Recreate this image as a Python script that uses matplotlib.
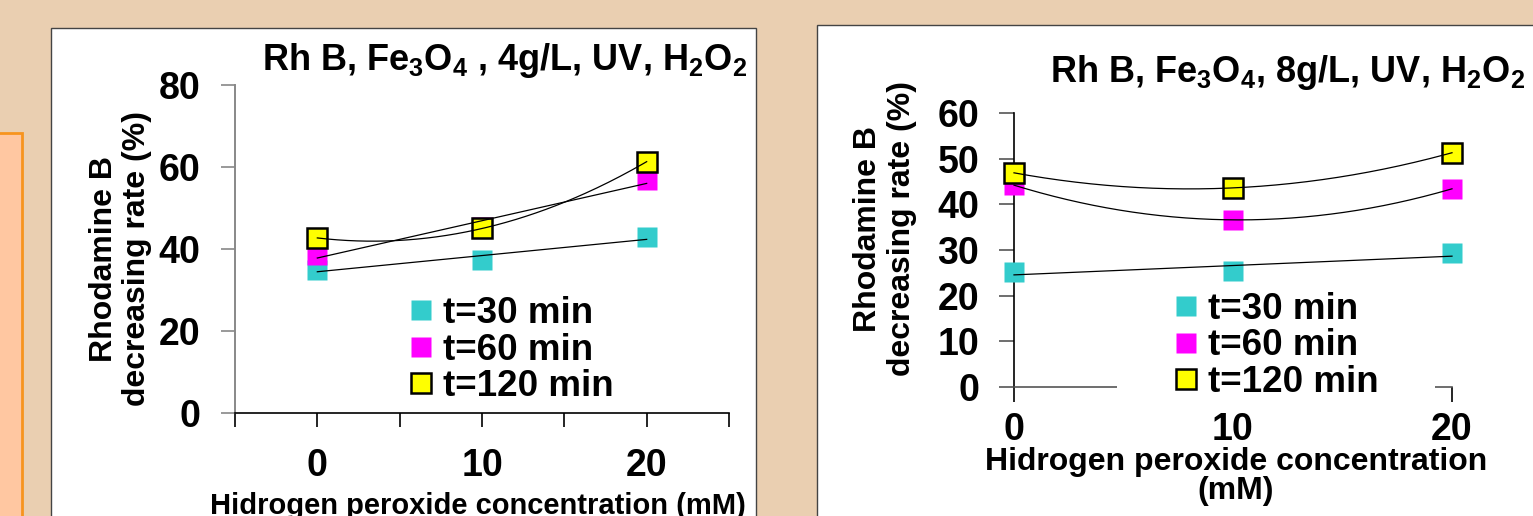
import numpy as np
import matplotlib
matplotlib.use('Agg')
import matplotlib.pyplot as plt
from matplotlib.patches import Rectangle

plt.rcParams['font.family'] = ['Liberation Sans', 'DejaVu Sans']
plt.rcParams['font.weight'] = 'bold'
plt.rcParams['axes.labelweight'] = 'bold'
plt.rcParams['mathtext.fontset'] = 'custom'
plt.rcParams['mathtext.rm'] = 'Liberation Sans:bold'
plt.rcParams['mathtext.it'] = 'Liberation Sans:bold'
plt.rcParams['mathtext.bf'] = 'Liberation Sans:bold'

conc = [0, 10, 20]
labels = ['t=30 min', 't=60 min', 't=120 min']
colors = ['#33CCCC', '#FF00FF', '#FFFF00']

# Fe3O4 4 g/L
rate4_30 = [35.0, 37.3, 42.9]
rate4_60 = [38.6, 45.3, 56.8]
rate4_120 = [42.7, 45.0, 61.3]
fit4 = [1, 1, 2]          # trendline order per series

# Fe3O4 8 g/L
rate8_30 = [25.2, 25.3, 29.3]
rate8_60 = [44.2, 36.6, 43.4]
rate8_120 = [46.9, 43.6, 51.3]
fit8 = [1, 2, 2]

W, H = 1533, 516
def fx(px):
    return px / W
def fy(py):
    return 1 - py / H

fig = plt.figure(figsize=(W / 100, H / 100), dpi=100, facecolor='#EACFB1')
fig.add_artist(Rectangle((-0.01, -0.01), fx(22) + 0.01, fy(133) + 0.01,
                         facecolor='#FFC7A1', edgecolor='#F7941E', lw=2, zorder=-5))
fig.add_artist(Rectangle((fx(51), -0.01), fx(756) - fx(51), fy(28) + 0.01,
                         facecolor='white', edgecolor='#444444', lw=1, zorder=-5))
fig.add_artist(Rectangle((fx(817), -0.01), 1.0, fy(25) + 0.01,
                         facecolor='white', edgecolor='#444444', lw=1, zorder=-5))


def draw_series(ax, series, fits, ms):
    xs = np.linspace(0, 20, 200)
    for y, c, lab, deg in zip(series, colors, labels, fits):
        if c == '#FFFF00':
            ax.plot(conc, y, 's', ms=ms, mfc=c, mec='black', mew=1.8,
                    label=lab, zorder=3, clip_on=False)
        else:
            ax.plot(conc, y, 's', ms=ms, mfc=c, mec='none',
                    label=lab, zorder=3, clip_on=False)
        p = np.polyfit(conc, y, deg)
        ax.plot(xs, np.polyval(p, xs), color='black', lw=0.9, zorder=4, clip_on=False)
    for s in ['top', 'right']:
        ax.spines[s].set_visible(False)
    ax.set_facecolor('none')


# ---- left chart ----
ax1 = fig.add_axes([fx(235), fy(413), fx(729) - fx(235), fy(85) - fy(413)])
draw_series(ax1, [rate4_30, rate4_60, rate4_120], fit4, 15)
ax1.set_xlim(-5, 25)
ax1.set_ylim(0, 80)
ax1.set_xticks([-5, 0, 5, 10, 15, 20, 25], ['', '0', '', '10', '', '20', ''])
ax1.set_yticks([0, 20, 40, 60, 80])
ax1.spines['left'].set_color('#888888')
ax1.spines['left'].set_linewidth(1.4)
ax1.spines['bottom'].set_linewidth(1.2)
ax1.tick_params(axis='x', direction='out', length=10, width=1.2, color='black',
                pad=15, labelsize=27)
ax1.tick_params(axis='y', direction='out', length=10, width=1.2, color='#888888',
                pad=15, labelsize=27)
ax1.set_ylabel('Rhodamine B\ndecreasing rate (%)', fontsize=23, linespacing=1.15)
ax1.yaxis.set_label_coords(-0.232, 0.47)
ax1.yaxis.label.set_va('center')
ax1.set_xlabel('Hidrogen peroxide concentration (mM)', fontsize=21)
ax1.xaxis.set_label_coords(0.492, -0.285)
ax1.xaxis.label.set_va('center')
ax1.legend(loc='center', bbox_to_anchor=(fx(512), fy(350)), bbox_transform=fig.transFigure,
           facecolor='white', edgecolor='none', framealpha=1, fontsize=26.5,
           handlelength=0.6, handletextpad=0.3, labelspacing=0.05, borderpad=0.2)
fig.text(fx(505), fy(70), r'Rh B, Fe$_3$O$_4$ , 4g/L, UV, H$_2$O$_2$',
         ha='center', va='baseline', fontsize=26)

# ---- right chart ----
ax2 = fig.add_axes([fx(1014), fy(387), fx(1452) - fx(1014), fy(113) - fy(387)])
draw_series(ax2, [rate8_30, rate8_60, rate8_120], fit8, 14.5)
ax2.set_xlim(0, 20)
ax2.set_ylim(0, 60)
ax2.set_xticks(conc)
ax2.set_yticks([0, 10, 20, 30, 40, 50, 60])
ax2.spines['left'].set_color('black')
ax2.spines['left'].set_linewidth(1.2)
ax2.spines['bottom'].set_color('#555555')
ax2.spines['bottom'].set_linewidth(1.2)
ax2.tick_params(axis='x', direction='out', length=11, width=1.2, color='black',
                pad=7, labelsize=27)
ax2.tick_params(axis='y', direction='out', length=11, width=1.2, color='#555555',
                pad=14, labelsize=27)
ax2.set_ylabel('Rhodamine B\ndecreasing rate (%)', fontsize=23, linespacing=1.15)
ax2.yaxis.set_label_coords(-0.295, 0.577)
ax2.yaxis.label.set_va('center')
ax2.set_xlabel('Hidrogen peroxide concentration\n(mM)', fontsize=23, linespacing=0.98)
ax2.xaxis.set_label_coords(0.507, -0.327)
ax2.xaxis.label.set_va('center')
ax2.add_patch(Rectangle((fx(1117), fy(405)), fx(1435) - fx(1117), fy(365) - fy(405),
                        transform=fig.transFigure, facecolor='white', edgecolor='none',
                        zorder=4.5, clip_on=False))
ax2.legend(loc='center', bbox_to_anchor=(fx(1277), fy(346)), bbox_transform=fig.transFigure,
           facecolor='white', edgecolor='none', framealpha=1, fontsize=26.5,
           handlelength=0.6, handletextpad=0.3, labelspacing=0.05, borderpad=0.2)
fig.text(fx(1288), fy(82), r'Rh B, Fe$_3$O$_4$, 8g/L, UV, H$_2$O$_2$',
         ha='center', va='baseline', fontsize=26)

fig.savefig('out.png', dpi=100, facecolor=fig.get_facecolor())
